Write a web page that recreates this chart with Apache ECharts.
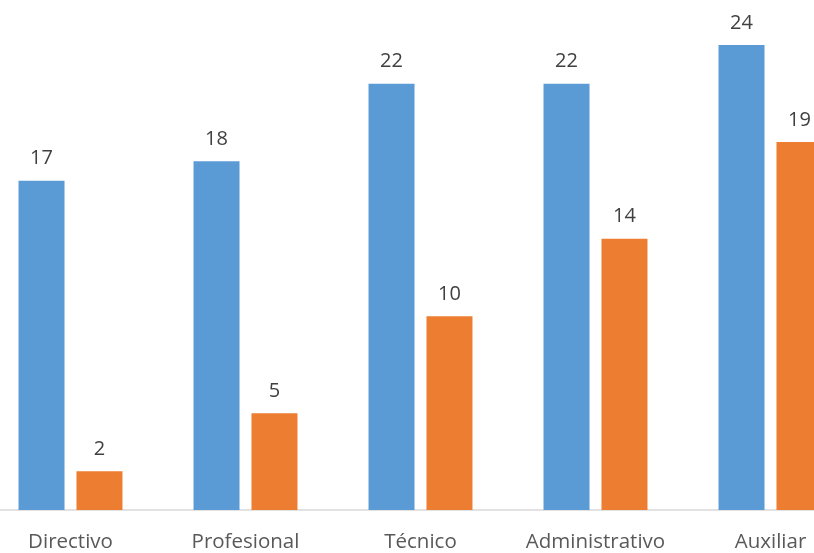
<!DOCTYPE html>
<html><head><meta charset="utf-8">
<script src="https://cdn.jsdelivr.net/npm/echarts@6/dist/echarts.min.js"></script>
<style>html,body{margin:0;padding:0;background:#fff;overflow:hidden;width:814px;height:553px;position:relative}
#c{position:absolute;left:-17.5px;top:0;width:875px;height:553px}</style>
</head><body><div id="c"></div>
<script>
const categories = ['Directivo', 'Profesional', 'Técnico', 'Administrativo', 'Auxiliar'];
const seriesA = [17, 18, 22, 22, 24];
const seriesB = [2, 5, 10, 14, 19];
const chart = echarts.init(document.getElementById('c'));
const lbl = {show: true, position: 'top', distance: 12, fontFamily: 'Open Sans', fontSize: 20, color: '#404040'};
chart.setOption({
  animation: false,
  grid: {left: 0, right: 0, top: 45, bottom: 43},
  xAxis: {type: 'category', data: categories,
    axisLine: {lineStyle: {color: '#d9d9d9', width: 1.5}},
    axisTick: {show: false},
    axisLabel: {interval: 0, fontFamily: 'Open Sans', fontSize: 20.5, color: '#595959', margin: 22}},
  yAxis: {type: 'value', min: 0, max: 24, show: false, splitLine: {show: false}},
  series: [
    {type: 'bar', data: seriesA, barWidth: 46, barGap: '26%', itemStyle: {color: '#5B9BD5'}, label: lbl},
    {type: 'bar', data: seriesB, barWidth: 46, itemStyle: {color: '#ED7D31'}, label: lbl}
  ]
});
</script></body></html>
